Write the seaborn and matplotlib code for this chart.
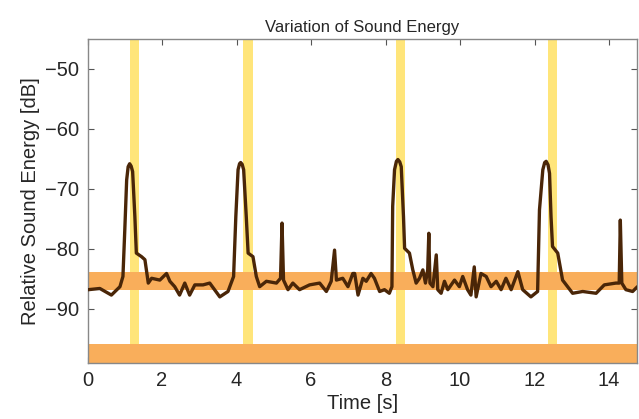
import numpy as np
import pandas as pd
import matplotlib
matplotlib.use("Agg")
import matplotlib.pyplot as plt
import seaborn as sns

# traced sound energy curve (time in s, level in dB)
time_s = [0.0, 0.02, 0.33, 0.64, 0.87, 0.95, 1.0, 1.05, 1.09, 1.13, 1.17, 1.21, 1.27, 1.31, 1.45, 1.54, 1.63,
          1.72, 1.94, 2.12, 2.21, 2.34, 2.47, 2.61, 2.74, 2.88, 3.10, 3.28, 3.55, 3.77, 3.92,
          3.98, 4.04, 4.08, 4.11, 4.15, 4.19, 4.26, 4.31, 4.44, 4.53, 4.62, 4.8, 5.07, 5.18, 5.22, 5.26,
          5.38, 5.51, 5.69, 5.96, 6.23, 6.41, 6.54, 6.63, 6.68, 6.85, 6.99, 7.12, 7.17, 7.26,
          7.39, 7.48, 7.61, 7.70, 7.84, 7.97, 8.1, 8.17, 8.19, 8.24, 8.29, 8.33, 8.38, 8.42, 8.48, 8.51,
          8.64, 8.73, 8.82, 8.91, 9.0, 9.07, 9.13, 9.16, 9.19, 9.27, 9.36, 9.40, 9.49, 9.58,
          9.67, 9.85, 9.98, 10.07, 10.2, 10.29, 10.38, 10.43, 10.56, 10.7, 10.83, 10.97, 11.1,
          11.23, 11.37, 11.55, 11.68, 11.9, 12.08, 12.13, 12.22, 12.27, 12.31, 12.36, 12.4, 12.44, 12.48,
          12.62, 12.75, 13.02, 13.29, 13.65, 13.87, 14.18, 14.27, 14.30, 14.34, 14.45, 14.63, 14.76]
energy_db = [-86.8, -86.8, -86.6, -87.7, -86.3, -84.6, -76.8, -68.5, -66.3, -65.8, -66.2, -67.1, -74.6, -80.7, -81.3, -81.8, -85.7,
             -84.9, -85.2, -84.1, -85.4, -86.3, -87.7, -85.7, -87.7, -86.0, -86.0, -85.7, -88.0, -87.1, -84.6,
             -74.6, -66.8, -65.8, -65.6, -65.9, -66.8, -74.6, -80.7, -81.3, -84.6, -86.3, -85.4, -85.7, -84.9, -75.7, -85.2,
             -86.8, -85.7, -86.8, -86.0, -85.7, -87.1, -85.4, -80.2, -85.2, -84.9, -86.3, -84.1, -84.1, -87.7,
             -84.9, -85.4, -84.1, -84.9, -87.1, -86.8, -87.4, -86.3, -72.9, -66.8, -65.4, -65.1, -65.5, -66.3, -74.6, -79.9,
             -80.7, -83.5, -85.7, -84.9, -83.5, -85.7, -83.5, -77.4, -85.7, -86.3, -81.0, -86.8, -87.4, -85.4,
             -86.8, -85.2, -86.3, -84.6, -86.8, -87.7, -83.0, -88.0, -84.1, -84.6, -86.3, -85.4, -86.8,
             -84.9, -86.8, -83.8, -86.8, -88.0, -87.1, -73.5, -66.8, -65.6, -65.4, -66.0, -67.4, -74.6, -79.6,
             -80.7, -85.2, -87.4, -87.1, -87.4, -86.0, -85.7, -85.7, -75.2, -85.7, -86.8, -87.1, -86.3]

# highlighted time windows (yellow) and level bands (orange)
onset_windows = [(1.14, 1.38), (4.17, 4.45), (8.27, 8.52), (12.37, 12.59)]
level_bands = [(-86.8, -83.8), (-99.0, -95.9)]

df = pd.DataFrame({"Time": time_s, "Energy": energy_db})

sns.set_style("white")
plt.rcParams["font.family"] = ["Liberation Sans", "DejaVu Sans"]

fig = plt.figure(figsize=(6.39, 4.19), dpi=100)
ax = fig.add_axes([0.137, 0.134, 0.86, 0.773])

for t0, t1 in onset_windows:
    ax.axvspan(t0, t1, color="#ffe57a", lw=0, zorder=1)
for y0, y1 in level_bands:
    ax.axhspan(y0, y1, color="#f9ae5b", lw=0, zorder=2)

sns.lineplot(data=df, x="Time", y="Energy", color="#4a2608", linewidth=2.4, ax=ax, zorder=3)

ax.set_xlim(0, 14.75)
ax.set_ylim(-99, -45)
ax.set_xticks([0, 2, 4, 6, 8, 10, 12, 14])
ax.set_yticks([-90, -80, -70, -60, -50])
ax.set_yticklabels(["\u221290", "\u221280", "\u221270", "\u221260", "\u221250"])
ax.tick_params(direction="in", length=4, width=0.8, color="#555555", labelsize=14.5,
               top=True, right=True, bottom=True, left=True, pad=6)
for sp in ax.spines.values():
    sp.set_color("#888888")
    sp.set_linewidth(1.0)

ax.set_xlabel("Time [s]", fontsize=14.5, labelpad=3)
ax.set_ylabel("Relative Sound Energy [dB]", fontsize=14.5, labelpad=4)
ax.set_title("Variation of Sound Energy", fontsize=12, pad=5)

fig.savefig("out.png", dpi=100)
